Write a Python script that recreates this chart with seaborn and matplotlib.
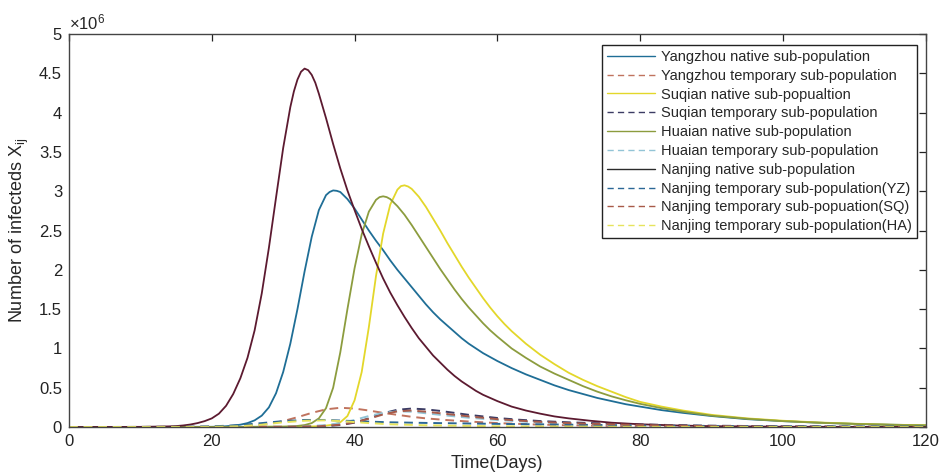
import numpy as np
import pandas as pd
import matplotlib
matplotlib.use("Agg")
import matplotlib.pyplot as plt
import seaborn as sns

# Infected counts per sub-population, in units of 10^6
yz_native_days = [0, 10, 20, 21, 22, 23, 24, 25, 26, 27, 28, 29, 30, 31, 32, 33, 34, 35, 36,
                  36.5, 37, 37.5, 38, 39, 40, 41, 42, 43, 44, 45, 46, 47, 48, 49, 50, 51, 52,
                  53, 54, 55, 56, 57, 58, 59, 60, 62, 64, 66, 68, 70, 72, 74, 76, 78, 80, 83,
                  86, 90, 95, 100, 105, 110, 115, 120]
yz_native = [0, 0.0005, 0.003, 0.005, 0.01, 0.018, 0.03, 0.05, 0.085, 0.145, 0.25, 0.43,
             0.70, 1.06, 1.50, 1.98, 2.42, 2.76, 2.95, 2.99, 3.01, 3.005, 2.99, 2.90, 2.78,
             2.64, 2.50, 2.37, 2.25, 2.12, 2.00, 1.89, 1.78, 1.67, 1.56, 1.46, 1.37, 1.29,
             1.21, 1.13, 1.06, 1.00, 0.94, 0.89, 0.84, 0.75, 0.67, 0.60, 0.53, 0.47, 0.42,
             0.37, 0.33, 0.29, 0.26, 0.215, 0.18, 0.14, 0.10, 0.075, 0.055, 0.04, 0.03, 0.022]

yz_temp_days = [0, 20, 22, 24, 26, 28, 30, 32, 34, 36, 38, 40, 42, 44, 46, 48, 50, 53, 56,
                60, 65, 70, 80, 90, 100, 120]
yz_temp = [0, 0.002, 0.005, 0.01, 0.02, 0.04, 0.075, 0.125, 0.18, 0.225, 0.245, 0.235,
           0.21, 0.18, 0.155, 0.13, 0.11, 0.088, 0.07, 0.05, 0.033, 0.022, 0.01, 0.005,
           0.002, 0]

sq_native_days = [0, 20, 33, 35, 36, 37, 38, 39, 40, 41, 42, 43, 44, 45, 46, 46.5, 47, 47.5,
                  48, 49, 50, 51, 52, 53, 54, 55, 56, 57, 58, 59, 60, 61, 62, 64, 66, 68, 70,
                  72, 74, 76, 78, 80, 83, 86, 90, 95, 100, 105, 110, 115, 120]
sq_native = [0, 0, 0.005, 0.01, 0.018, 0.03, 0.06, 0.14, 0.34, 0.70, 1.27, 1.92, 2.46, 2.83,
             3.02, 3.065, 3.075, 3.06, 3.03, 2.93, 2.80, 2.65, 2.50, 2.34, 2.19, 2.04, 1.90,
             1.77, 1.64, 1.52, 1.41, 1.31, 1.22, 1.06, 0.92, 0.80, 0.69, 0.60, 0.52, 0.45,
             0.38, 0.32, 0.26, 0.21, 0.155, 0.11, 0.08, 0.058, 0.042, 0.03, 0.022]

sq_temp_days = [0, 30, 34, 36, 38, 40, 42, 44, 46, 48, 50, 52, 54, 56, 58, 60, 63, 66, 70,
                75, 80, 85, 90, 100, 110, 120]
sq_temp = [0, 0.002, 0.006, 0.012, 0.025, 0.055, 0.11, 0.175, 0.22, 0.235, 0.225, 0.205,
           0.18, 0.155, 0.135, 0.115, 0.093, 0.076, 0.06, 0.045, 0.033, 0.024, 0.017, 0.009,
           0.004, 0.002]

ha_native_days = [0, 20, 30, 31, 32, 33, 34, 35, 36, 37, 38, 39, 40, 41, 42, 43, 43.5, 44,
                  44.5, 45, 46, 47, 48, 49, 50, 51, 52, 53, 54, 55, 56, 57, 58, 59, 60, 62, 64,
                  66, 68, 70, 72, 74, 76, 78, 80, 83, 86, 90, 95, 100, 105, 110, 115, 120]
ha_native = [0, 0, 0.005, 0.008, 0.014, 0.025, 0.05, 0.11, 0.24, 0.50, 0.95, 1.50, 2.02,
             2.45, 2.74, 2.89, 2.925, 2.935, 2.925, 2.90, 2.81, 2.70, 2.57, 2.43, 2.29, 2.15,
             2.01, 1.88, 1.75, 1.63, 1.52, 1.42, 1.32, 1.23, 1.15, 1.00, 0.88, 0.77, 0.68,
             0.60, 0.52, 0.45, 0.39, 0.34, 0.295, 0.24, 0.195, 0.145, 0.105, 0.075, 0.055,
             0.04, 0.028, 0.02]

ha_temp_days = [0, 30, 33, 36, 38, 40, 42, 44, 46, 48, 50, 53, 56, 60, 65, 70, 80, 90, 100,
                120]
ha_temp = [0, 0.002, 0.008, 0.025, 0.05, 0.09, 0.14, 0.18, 0.20, 0.195, 0.175, 0.145, 0.118,
           0.09, 0.062, 0.042, 0.019, 0.009, 0.004, 0.001]

nj_native_days = [0, 10, 14, 15, 16, 17, 18, 19, 20, 21, 22, 23, 24, 25, 26, 27, 28, 29, 30,
                  31, 31.5, 32, 32.5, 33, 33.5, 34, 34.5, 35, 36, 37, 38, 39, 40, 41, 42, 43,
                  44, 45, 46, 47, 48, 49, 50, 51, 52, 53, 54, 55, 56, 57, 58, 59, 60, 62, 64,
                  66, 68, 70, 73, 76, 80, 85, 90, 100, 110, 120]
nj_native = [0, 0.002, 0.008, 0.012, 0.02, 0.032, 0.05, 0.075, 0.11, 0.17, 0.27, 0.42, 0.62,
             0.88, 1.23, 1.70, 2.28, 2.92, 3.55, 4.07, 4.27, 4.42, 4.52, 4.56, 4.54, 4.48,
             4.38, 4.24, 3.93, 3.60, 3.29, 3.01, 2.76, 2.52, 2.30, 2.09, 1.89, 1.71, 1.55,
             1.40, 1.26, 1.13, 1.02, 0.91, 0.82, 0.73, 0.65, 0.58, 0.52, 0.46, 0.41, 0.37,
             0.33, 0.26, 0.21, 0.17, 0.135, 0.11, 0.08, 0.055, 0.035, 0.02, 0.011, 0.004,
             0.002, 0.001]

nj_temp_yz_days = [0, 15, 20, 24, 27, 30, 33, 36, 40, 45, 50, 55, 60, 70, 80, 90, 100, 120]
nj_temp_yz = [0, 0.002, 0.008, 0.025, 0.05, 0.075, 0.09, 0.09, 0.075, 0.06, 0.052, 0.046,
              0.04, 0.03, 0.02, 0.014, 0.01, 0.005]

nj_temp_sq_days = [0, 30, 35, 38, 40, 42, 44, 46, 48, 50, 53, 56, 60, 65, 70, 80, 90, 100,
                   120]
nj_temp_sq = [0, 0.002, 0.01, 0.03, 0.06, 0.105, 0.16, 0.20, 0.21, 0.195, 0.165, 0.135,
              0.10, 0.07, 0.05, 0.024, 0.011, 0.005, 0.001]

nj_temp_ha_days = [0, 20, 24, 27, 30, 33, 36, 39, 42, 45, 50, 60, 80, 120]
nj_temp_ha = [0, 0.002, 0.01, 0.03, 0.06, 0.08, 0.085, 0.07, 0.05, 0.035, 0.022, 0.009,
              0.002, 0]

labels = [
    "Yangzhou native sub-population",
    "Yangzhou temporary sub-population",
    "Suqian native sub-popualtion",
    "Suqian temporary sub-population",
    "Huaian native sub-population",
    "Huaian temporary sub-population",
    "Nanjing native sub-population",
    "Nanjing temporary sub-population(YZ)",
    "Nanjing temporary sub-popuation(SQ)",
    "Nanjing temporary sub-population(HA)",
]
series = [
    (yz_native_days, yz_native), (yz_temp_days, yz_temp),
    (sq_native_days, sq_native), (sq_temp_days, sq_temp),
    (ha_native_days, ha_native), (ha_temp_days, ha_temp),
    (nj_native_days, nj_native), (nj_temp_yz_days, nj_temp_yz),
    (nj_temp_sq_days, nj_temp_sq), (nj_temp_ha_days, nj_temp_ha),
]
colors = ["#1f6e96", "#c0735e", "#e3d72a", "#3c3c64", "#8c9c3e",
          "#92c4d6", "#5c1a30", "#2b6796", "#a85a48", "#e6e45c"]
dashed = [False, True, False, True, False, True, False, True, True, True]

sns.set_theme(style="white")
plt.rcParams["font.family"] = ["Liberation Sans", "DejaVu Sans"]
plt.rcParams["mathtext.default"] = "regular"

fig = plt.figure(figsize=(9.39, 4.75), dpi=100)
ax = fig.add_axes([0.0735, 0.101, 0.9123, 0.8274])

frames = []
for lab, (d, v) in zip(labels, series):
    frames.append(pd.DataFrame({"day": d, "infected": v, "group": lab}))
df = pd.concat(frames, ignore_index=True)

for lab, col, ds in zip(labels, colors, dashed):
    sub = df[df["group"] == lab]
    sns.lineplot(data=sub, x="day", y="infected", ax=ax, color=col,
                 linestyle=(0, (4.5, 3)) if ds else "-",
                 linewidth=1.4 if ds else 1.3, label=lab, sort=True,
                 estimator=None)

ax.set_xlim(0, 120)
ax.set_ylim(0, 5)
ax.set_xticks(np.arange(0, 121, 20))
ax.set_yticks(np.arange(0, 5.01, 0.5))
ax.set_yticklabels([f"{t:g}" for t in np.arange(0, 5.01, 0.5)])
ax.tick_params(axis="both", which="both", direction="in", length=5, width=0.9,
               top=True, right=True, labelsize=12, colors="#222222", pad=5)
for s in ax.spines.values():
    s.set_color("#444444")
    s.set_linewidth(1.0)

ax.set_xlabel("Time(Days)", fontsize=13, labelpad=4)
ax.set_ylabel("Number of infecteds X$_{ij}$", fontsize=13, labelpad=6)
ax.text(0.0, 1.004, r"$\times$10$^{6}$", transform=ax.transAxes, ha="left",
        va="bottom", fontsize=12)

leg = ax.legend(loc="upper right", bbox_to_anchor=(0.9895, 0.9725), fontsize=10.5,
                frameon=True, fancybox=False, edgecolor="#222222", framealpha=1,
                handlelength=3.3, handletextpad=0.4, labelspacing=0.33,
                borderpad=0.35, borderaxespad=0)
leg.get_frame().set_linewidth(1.0)
for ln in leg.get_lines():
    ln.set_linewidth(1.0)
leg.get_lines()[6].set_color("#2b2b2b")

fig.savefig("out.png", dpi=100)
